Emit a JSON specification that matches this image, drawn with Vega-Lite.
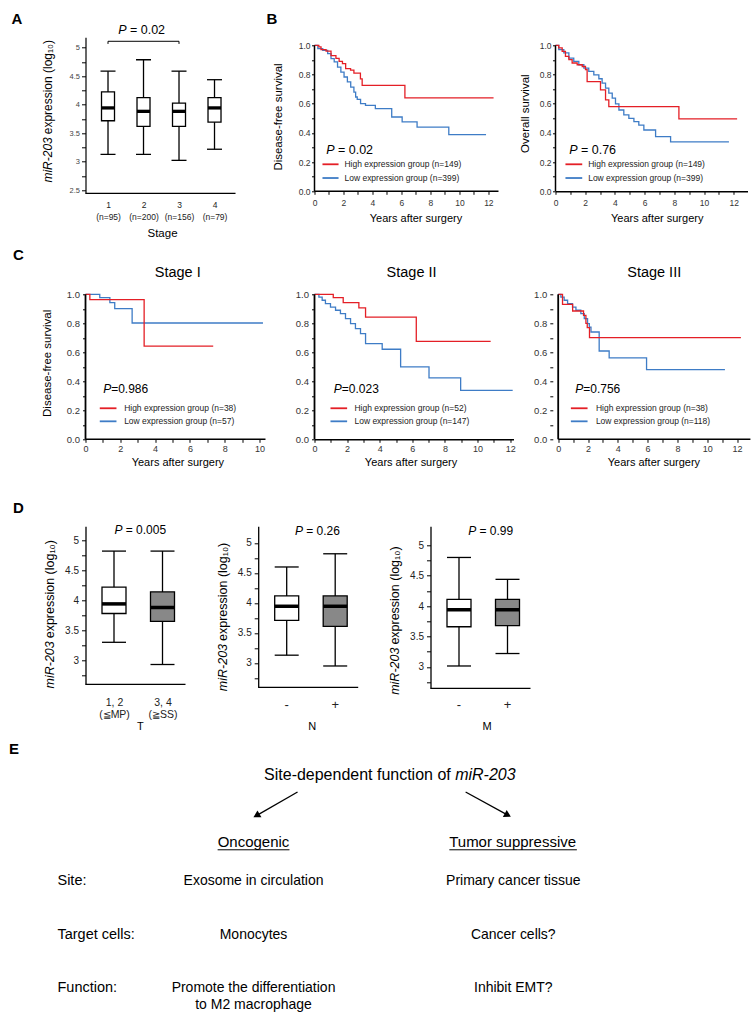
{
"$schema": "https://vega.github.io/schema/vega-lite/v6.json",
"background": "#ffffff",
"padding": {"left": 8.5, "top": 11.3, "right": 0, "bottom": 0},
"columns": 3,
"align": "each",
"bounds": "flush",
"spacing": {"row": 87, "column": 39},
"datasets": {
"boxA": [
{"stage":1,"lo":3.13,"q1":3.72,"med":3.945,"q3":4.225,"hi":4.59},
{"stage":2,"lo":3.13,"q1":3.62,"med":3.885,"q3":4.125,"hi":4.79},
{"stage":3,"lo":3.025,"q1":3.62,"med":3.885,"q3":4.03,"hi":4.59},
{"stage":4,"lo":3.22,"q1":3.695,"med":3.945,"q3":4.125,"hi":4.44}],
"dfs": [
{"g":"Low","t":0,"s":1},{"g":"Low","t":0.23,"s":0.977},{"g":"Low","t":0.57,"s":0.966},{"g":"Low","t":0.91,"s":0.943},{"g":"Low","t":1.14,"s":0.909},{"g":"Low","t":1.36,"s":0.886},{"g":"Low","t":1.59,"s":0.851},{"g":"Low","t":1.82,"s":0.817},{"g":"Low","t":2.04,"s":0.783},{"g":"Low","t":2.27,"s":0.749},{"g":"Low","t":2.5,"s":0.714},{"g":"Low","t":2.72,"s":0.68},{"g":"Low","t":2.84,"s":0.646},{"g":"Low","t":2.95,"s":0.63},{"g":"Low","t":3.18,"s":0.6},{"g":"Low","t":3.52,"s":0.589},{"g":"Low","t":4.2,"s":0.566},{"g":"Low","t":5.33,"s":0.509},{"g":"Low","t":6.05,"s":0.475},{"g":"Low","t":7.08,"s":0.44},{"g":"Low","t":9.27,"s":0.388},{"g":"Low","t":11.84,"s":0.388},
{"g":"High","t":0,"s":1},{"g":"High","t":0.3,"s":0.99},{"g":"High","t":0.45,"s":0.97},{"g":"High","t":0.8,"s":0.96},{"g":"High","t":1.14,"s":0.93},{"g":"High","t":1.48,"s":0.91},{"g":"High","t":1.7,"s":0.89},{"g":"High","t":1.93,"s":0.875},{"g":"High","t":2.15,"s":0.84},{"g":"High","t":2.49,"s":0.83},{"g":"High","t":2.72,"s":0.81},{"g":"High","t":3.17,"s":0.77},{"g":"High","t":3.29,"s":0.726},{"g":"High","t":6.24,"s":0.64},{"g":"High","t":12.36,"s":0.64}],
"os": [
{"g":"Low","t":0,"s":1},{"g":"Low","t":0.22,"s":0.97},{"g":"Low","t":0.56,"s":0.948},{"g":"Low","t":0.9,"s":0.913},{"g":"Low","t":1.23,"s":0.89},{"g":"Low","t":1.57,"s":0.867},{"g":"Low","t":1.91,"s":0.844},{"g":"Low","t":2.24,"s":0.821},{"g":"Low","t":2.58,"s":0.798},{"g":"Low","t":2.92,"s":0.771},{"g":"Low","t":3.14,"s":0.741},{"g":"Low","t":3.37,"s":0.707},{"g":"Low","t":3.59,"s":0.672},{"g":"Low","t":3.82,"s":0.638},{"g":"Low","t":4.04,"s":0.599},{"g":"Low","t":4.27,"s":0.557},{"g":"Low","t":4.6,"s":0.523},{"g":"Low","t":4.94,"s":0.5},{"g":"Low","t":5.28,"s":0.477},{"g":"Low","t":5.61,"s":0.454},{"g":"Low","t":5.95,"s":0.42},{"g":"Low","t":6.74,"s":0.374},{"g":"Low","t":7.75,"s":0.339},{"g":"Low","t":11.68,"s":0.339},
{"g":"High","t":0,"s":1},{"g":"High","t":0.22,"s":0.982},{"g":"High","t":0.45,"s":0.959},{"g":"High","t":0.67,"s":0.924},{"g":"High","t":0.9,"s":0.902},{"g":"High","t":1.12,"s":0.879},{"g":"High","t":1.46,"s":0.867},{"g":"High","t":1.8,"s":0.855},{"g":"High","t":2.02,"s":0.833},{"g":"High","t":2.13,"s":0.752},{"g":"High","t":3.03,"s":0.695},{"g":"High","t":3.37,"s":0.626},{"g":"High","t":3.59,"s":0.58},{"g":"High","t":8.31,"s":0.496},{"g":"High","t":12.23,"s":0.496}],
"st1": [
{"g":"Low","t":0,"s":1},{"g":"Low","t":0.82,"s":0.977},{"g":"Low","t":1.4,"s":0.943},{"g":"Low","t":1.68,"s":0.901},{"g":"Low","t":2.68,"s":0.802},{"g":"Low","t":10.2,"s":0.802},
{"g":"High","t":0,"s":1},{"g":"High","t":0.25,"s":0.963},{"g":"High","t":3.37,"s":0.643},{"g":"High","t":7.34,"s":0.643}],
"st2": [
{"g":"Low","t":0,"s":1},{"g":"Low","t":0.27,"s":0.981},{"g":"Low","t":0.47,"s":0.959},{"g":"Low","t":0.67,"s":0.936},{"g":"Low","t":0.98,"s":0.912},{"g":"Low","t":1.29,"s":0.89},{"g":"Low","t":1.59,"s":0.867},{"g":"Low","t":1.9,"s":0.832},{"g":"Low","t":2.21,"s":0.798},{"g":"Low","t":2.51,"s":0.763},{"g":"Low","t":2.82,"s":0.729},{"g":"Low","t":3.13,"s":0.66},{"g":"Low","t":4.15,"s":0.621},{"g":"Low","t":5.28,"s":0.499},{"g":"Low","t":7.02,"s":0.423},{"g":"Low","t":8.96,"s":0.338},{"g":"Low","t":12.15,"s":0.338},
{"g":"High","t":0,"s":1},{"g":"High","t":1.15,"s":0.977},{"g":"High","t":1.76,"s":0.943},{"g":"High","t":2.72,"s":0.906},{"g":"High","t":3.13,"s":0.843},{"g":"High","t":6.24,"s":0.676},{"g":"High","t":10.8,"s":0.676}],
"st3": [
{"g":"Low","t":0,"s":1},{"g":"Low","t":0.18,"s":0.981},{"g":"Low","t":0.4,"s":0.959},{"g":"Low","t":0.63,"s":0.936},{"g":"Low","t":0.96,"s":0.912},{"g":"Low","t":1.19,"s":0.89},{"g":"Low","t":1.52,"s":0.867},{"g":"Low","t":1.75,"s":0.832},{"g":"Low","t":1.97,"s":0.798},{"g":"Low","t":2.09,"s":0.774},{"g":"Low","t":2.2,"s":0.74},{"g":"Low","t":2.75,"s":0.609},{"g":"Low","t":3.42,"s":0.561},{"g":"Low","t":5.93,"s":0.481},{"g":"Low","t":11.19,"s":0.481},
{"g":"High","t":0,"s":1},{"g":"High","t":0.29,"s":0.931},{"g":"High","t":0.97,"s":0.885},{"g":"High","t":1.7,"s":0.855},{"g":"High","t":1.86,"s":0.8},{"g":"High","t":1.95,"s":0.77},{"g":"High","t":2.1,"s":0.701},{"g":"High","t":12.26,"s":0.701}],
"boxT": [
{"c":1,"lo":3.3,"q1":3.78,"med":3.94,"q3":4.22,"hi":4.82},
{"c":2,"lo":2.93,"q1":3.65,"med":3.88,"q3":4.14,"hi":4.82}],
"boxN": [
{"c":1,"lo":3.13,"q1":3.71,"med":3.945,"q3":4.117,"hi":4.6},
{"c":2,"lo":2.95,"q1":3.61,"med":3.945,"q3":4.117,"hi":4.82}],
"boxM": [
{"c":1,"lo":3.015,"q1":3.66,"med":3.94,"q3":4.11,"hi":4.8},
{"c":2,"lo":3.22,"q1":3.68,"med":3.94,"q3":4.11,"hi":4.44}],
"siteTable": [
{"order":1,"aspect":"Site:","oncogenic":"Exosome in circulation","suppressive":"Primary cancer tissue"},
{"order":2,"aspect":"Target cells:","oncogenic":"Monocytes","suppressive":"Cancer cells?"},
{"order":3,"aspect":"Function:","oncogenic":["Promote the differentiation","to M2 macrophage"],"suppressive":"Inhibit EMT?"}]
},
"concat": [
{
"width": 190, "height": 156,
"data": {"values": [{}]},
"layer": [
{"data":{"name":"boxA"},"mark":{"type":"rule","color":"#000","strokeWidth":1.3},
"encoding":{
"x":{"field":"stage","type":"quantitative","scale":{"domain":[0.366,5.718],"nice":false,"zero":false,"padding":0},
"axis":{"values":[1,2,3,4],"tickCount":50,"labelExpr":"[format(datum.value,'d'), datum.value == 1 ? '(n=95)' : datum.value == 2 ? '(n=200)' : datum.value == 3 ? '(n=156)' : '(n=79)']","labelOverlap":false,"domain":false,"ticks":false,"tickSize":0,"labelPadding":7.3,"labelFontSize":8.5,"labelLineHeight":12,"labelColor":"#222","title":null}},
"y":{"field":"lo","type":"quantitative","scale":{"domain":[2.447,5.184],"nice":false,"zero":false,"padding":0},
"axis":{"values":[2.5,2.75,3,3.25,3.5,3.75,4,4.25,4.5,4.75,5],"tickCount":50,"labelExpr":"datum.value*2 % 1 == 0 ? format(datum.value, '~g') : ''","labelOverlap":false,"tickSize":4,"labelPadding":2,"labelFontSize":7.5,"labelColor":"#444","domainWidth":1.2,"title":null}},
"y2":{"field":"hi"}}},
{"data":{"name":"boxA"},"mark":{"type":"bar","orient":"vertical","size":13,"fill":"#ffffff","stroke":"#000","strokeWidth":1.3},
"encoding":{"x":{"field":"stage","type":"quantitative"},"y":{"field":"q1","type":"quantitative"},"y2":{"field":"q3"}}},
{"data":{"name":"boxA"},"mark":{"type":"tick","orient":"horizontal","size":13,"thickness":3.3,"color":"#000","opacity":1},
"encoding":{"x":{"field":"stage","type":"quantitative"},"y":{"field":"med","type":"quantitative"}}},
{"data":{"name":"boxA"},"mark":{"type":"tick","orient":"horizontal","size":15,"thickness":1.3,"color":"#000","opacity":1},
"encoding":{"x":{"field":"stage","type":"quantitative"},"y":{"field":"lo","type":"quantitative"}}},
{"data":{"name":"boxA"},"mark":{"type":"tick","orient":"horizontal","size":15,"thickness":1.3,"color":"#000","opacity":1},
"encoding":{"x":{"field":"stage","type":"quantitative"},"y":{"field":"hi","type":"quantitative"}}},
{"mark":{"type":"rule","color":"#000","strokeWidth":1.2},"encoding":{"x":{"datum":0.366,"type":"quantitative"},"x2":{"datum":4.592},"y":{"datum":2.447,"type":"quantitative"}}},
{"mark":{"type":"rule","color":"#000","strokeWidth":1},"encoding":{"x":{"datum":1,"type":"quantitative"},"x2":{"datum":3},"y":{"datum":5.114,"type":"quantitative"}}},
{"mark":{"type":"rule","color":"#000","strokeWidth":1},"encoding":{"x":{"datum":1,"type":"quantitative"},"y":{"datum":5.114,"type":"quantitative"},"y2":{"datum":5.068}}},
{"mark":{"type":"rule","color":"#000","strokeWidth":1},"encoding":{"x":{"datum":3,"type":"quantitative"},"y":{"datum":5.114,"type":"quantitative"},"y2":{"datum":5.068}}},
{"mark":{"type":"text","text":"P","fontStyle":"italic","fontSize":12.5,"align":"right","baseline":"alphabetic"},"encoding":{"x":{"datum":1.521,"type":"quantitative"},"y":{"datum":5.249,"type":"quantitative"}}},
{"mark":{"type":"text","text":"= 0.02","fontSize":12.5,"align":"left","baseline":"alphabetic","dx":3.5},"encoding":{"x":{"datum":1.521,"type":"quantitative"},"y":{"datum":5.249,"type":"quantitative"}}},
{"mark":{"type":"text","text":"miR-203","fontStyle":"italic","fontSize":12,"angle":270,"align":"right","baseline":"middle"},"encoding":{"x":{"datum":-0.704,"type":"quantitative"},"y":{"datum":3.43,"type":"quantitative"}}},
{"mark":{"type":"text","text":"expression (log\u2081\u2080)","fontSize":12,"angle":270,"align":"left","baseline":"middle","dx":3},"encoding":{"x":{"datum":-0.704,"type":"quantitative"},"y":{"datum":3.43,"type":"quantitative"}}},
{"mark":{"type":"text","text":"Stage","fontSize":11.5,"align":"center","baseline":"middle"},"encoding":{"x":{"datum":2.535,"type":"quantitative"},"y":{"datum":1.74,"type":"quantitative"}}},
{"mark":{"type":"text","text":"A","fontSize":15,"fontWeight":"bold","align":"left","baseline":"alphabetic"},"encoding":{"x":{"datum":-1.718,"type":"quantitative"},"y":{"datum":5.425,"type":"quantitative"}}}
]
},
{
"width": 202, "height": 154,
"data": {"values": [{}]},
"layer": [
{"data":{"name":"dfs"},"mark":{"type":"line","interpolate":"step-after","strokeWidth":1.3},
"encoding":{
"x":{"field":"t","type":"quantitative","scale":{"domain":[0,13.943],"nice":false,"zero":false},"axis":{"values":[0,1,2,3,4,5,6,7,8,9,10,11,12],"tickCount":50,"labelExpr":"datum.value % 2 == 0 ? format(datum.value, 'd') : ''","labelOverlap":false,"domain":false,"tickSize":3,"labelPadding":4.5,"labelFontSize":8.5,"title":null}},
"y":{"field":"s","type":"quantitative","scale":{"domain":[0,1.055],"nice":false,"zero":false},"axis":{"values":[0,0.1,0.2,0.3,0.4,0.5,0.6,0.7,0.8,0.9,1],"tickCount":50,"labelExpr":"abs(datum.value*5 - round(datum.value*5)) < 0.01 ? format(datum.value, '.1f') : ''","labelOverlap":false,"domain":false,"tickSize":3,"labelPadding":1.5,"labelFontSize":8.5,"title":null}},
"color":{"field":"g","type":"nominal","scale":{"domain":["High","Low"],"range":["#e41f26","#3e7cc6"]},"legend":null}}},
{"mark":{"type":"rule","color":"#000","strokeWidth":1.5},"encoding":{"x":{"datum":0,"type":"quantitative"},"x2":{"datum":12.7},"y":{"datum":0,"type":"quantitative"}}},
{"mark":{"type":"rule","color":"#000","strokeWidth":1.5},"encoding":{"x":{"datum":0,"type":"quantitative"},"y":{"datum":0,"type":"quantitative"},"y2":{"datum":1}}},
{"mark":{"type":"rule","color":"#e41f26","strokeWidth":1.8},"encoding":{"x":{"datum":0.55,"type":"quantitative"},"x2":{"datum":1.66},"y":{"datum":0.185,"type":"quantitative"}}},
{"mark":{"type":"rule","color":"#3e7cc6","strokeWidth":1.8},"encoding":{"x":{"datum":0.55,"type":"quantitative"},"x2":{"datum":1.66},"y":{"datum":0.091,"type":"quantitative"}}},
{"mark":{"type":"text","text":"High expression group (n=149)","fontSize":8.5,"align":"left","baseline":"middle","color":"#222"},"encoding":{"x":{"datum":2.07,"type":"quantitative"},"y":{"datum":0.185,"type":"quantitative"}}},
{"mark":{"type":"text","text":"Low expression group (n=399)","fontSize":8.5,"align":"left","baseline":"middle","color":"#222"},"encoding":{"x":{"datum":2.07,"type":"quantitative"},"y":{"datum":0.091,"type":"quantitative"}}},
{"mark":{"type":"text","text":"P","fontStyle":"italic","fontSize":12.5,"align":"right","baseline":"alphabetic"},"encoding":{"x":{"datum":1.38,"type":"quantitative"},"y":{"datum":0.258,"type":"quantitative"}}},
{"mark":{"type":"text","text":"= 0.02","fontSize":12.5,"align":"left","baseline":"alphabetic","dx":3.5},"encoding":{"x":{"datum":1.38,"type":"quantitative"},"y":{"datum":0.258,"type":"quantitative"}}},
{"mark":{"type":"text","text":"Years after surgery","fontSize":11,"align":"center","baseline":"middle"},"encoding":{"x":{"datum":7.006,"type":"quantitative"},"y":{"datum":-0.1918,"type":"quantitative"}}},
{"mark":{"type":"text","text":"Disease-free survival","fontSize":11.5,"angle":270,"align":"center","baseline":"middle"},"encoding":{"x":{"datum":-2.464,"type":"quantitative"},"y":{"datum":0.509,"type":"quantitative"}}},
{"mark":{"type":"text","text":"B","fontSize":15,"fontWeight":"bold","align":"left","baseline":"alphabetic"},"encoding":{"x":{"datum":-3.31,"type":"quantitative"},"y":{"datum":1.149,"type":"quantitative"}}}
]
},
{
"width": 192, "height": 154,
"data": {"values": [{}]},
"layer": [
{"data":{"name":"os"},"mark":{"type":"line","interpolate":"step-after","strokeWidth":1.3},
"encoding":{
"x":{"field":"t","type":"quantitative","scale":{"domain":[0,12.929],"nice":false,"zero":false},"axis":{"values":[0,1,2,3,4,5,6,7,8,9,10,11,12],"tickCount":50,"labelExpr":"datum.value % 2 == 0 ? format(datum.value, 'd') : ''","labelOverlap":false,"domain":true,"tickSize":3,"labelPadding":4.5,"labelFontSize":8.5,"title":null}},
"y":{"field":"s","type":"quantitative","scale":{"domain":[0,1.055],"nice":false,"zero":false},"axis":{"values":[0,0.1,0.2,0.3,0.4,0.5,0.6,0.7,0.8,0.9,1],"tickCount":50,"labelExpr":"abs(datum.value*5 - round(datum.value*5)) < 0.01 ? format(datum.value, '.1f') : ''","labelOverlap":false,"domain":false,"tickSize":3,"labelPadding":1.5,"labelFontSize":8.5,"title":null}},
"color":{"field":"g","type":"nominal","scale":{"domain":["High","Low"],"range":["#e41f26","#3e7cc6"]},"legend":null}}},
{"mark":{"type":"rule","color":"#000","strokeWidth":1.5},"encoding":{"x":{"datum":0,"type":"quantitative"},"y":{"datum":0,"type":"quantitative"},"y2":{"datum":1}}},
{"mark":{"type":"rule","color":"#e41f26","strokeWidth":1.8},"encoding":{"x":{"datum":0.67,"type":"quantitative"},"x2":{"datum":1.8},"y":{"datum":0.185,"type":"quantitative"}}},
{"mark":{"type":"rule","color":"#3e7cc6","strokeWidth":1.8},"encoding":{"x":{"datum":0.67,"type":"quantitative"},"x2":{"datum":1.8},"y":{"datum":0.091,"type":"quantitative"}}},
{"mark":{"type":"text","text":"High expression group (n=149)","fontSize":8.5,"align":"left","baseline":"middle","color":"#222"},"encoding":{"x":{"datum":2.2,"type":"quantitative"},"y":{"datum":0.185,"type":"quantitative"}}},
{"mark":{"type":"text","text":"Low expression group (n=399)","fontSize":8.5,"align":"left","baseline":"middle","color":"#222"},"encoding":{"x":{"datum":2.2,"type":"quantitative"},"y":{"datum":0.091,"type":"quantitative"}}},
{"mark":{"type":"text","text":"P","fontStyle":"italic","fontSize":12.5,"align":"right","baseline":"alphabetic"},"encoding":{"x":{"datum":1.48,"type":"quantitative"},"y":{"datum":0.258,"type":"quantitative"}}},
{"mark":{"type":"text","text":"= 0.76","fontSize":12.5,"align":"left","baseline":"alphabetic","dx":3.5},"encoding":{"x":{"datum":1.48,"type":"quantitative"},"y":{"datum":0.258,"type":"quantitative"}}},
{"mark":{"type":"text","text":"Years after surgery","fontSize":11,"align":"center","baseline":"middle"},"encoding":{"x":{"datum":6.848,"type":"quantitative"},"y":{"datum":-0.1918,"type":"quantitative"}}},
{"mark":{"type":"text","text":"Overall survival","fontSize":11.5,"angle":270,"align":"center","baseline":"middle"},"encoding":{"x":{"datum":-2.02,"type":"quantitative"},"y":{"datum":0.532,"type":"quantitative"}}}
]
},
{
"width": 190, "height": 159,
"data": {"values": [{}]},
"layer": [
{"data":{"name":"st1"},"mark":{"type":"line","interpolate":"step-after","strokeWidth":1.3},
"encoding":{
"x":{"field":"t","type":"quantitative","scale":{"domain":[0,10.92],"nice":false,"zero":false},"axis":{"values":[0,1,2,3,4,5,6,7,8,9,10],"tickCount":50,"labelExpr":"datum.value % 2 == 0 ? format(datum.value, 'd') : ''","labelOverlap":false,"domain":false,"tickSize":3,"labelPadding":2,"labelFontSize":9,"title":null}},
"y":{"field":"s","type":"quantitative","scale":{"domain":[0,1.0966],"nice":false,"zero":false},"axis":{"values":[0,0.1,0.2,0.3,0.4,0.5,0.6,0.7,0.8,0.9,1],"tickCount":50,"labelExpr":"abs(datum.value*5 - round(datum.value*5)) < 0.01 ? format(datum.value, '.1f') : ''","labelOverlap":false,"domain":false,"tickSize":3,"labelPadding":3,"labelFontSize":9.5,"title":null}},
"color":{"field":"g","type":"nominal","scale":{"domain":["High","Low"],"range":["#e41f26","#3e7cc6"]},"legend":null}}},
{"mark":{"type":"rule","color":"#000","strokeWidth":1.5},"encoding":{"x":{"datum":0,"type":"quantitative"},"x2":{"datum":10.345},"y":{"datum":0,"type":"quantitative"}}},
{"mark":{"type":"rule","color":"#000","strokeWidth":1.8},"encoding":{"x":{"datum":0,"type":"quantitative"},"y":{"datum":0,"type":"quantitative"},"y2":{"datum":1}}},
{"mark":{"type":"text","text":"Stage I","fontSize":14.5,"align":"center","baseline":"middle"},"encoding":{"x":{"datum":5.3,"type":"quantitative"},"y":{"datum":1.1448,"type":"quantitative"}}},
{"mark":{"type":"rule","color":"#e41f26","strokeWidth":1.8},"encoding":{"x":{"datum":0.82,"type":"quantitative"},"x2":{"datum":1.78},"y":{"datum":0.214,"type":"quantitative"}}},
{"mark":{"type":"rule","color":"#3e7cc6","strokeWidth":1.8},"encoding":{"x":{"datum":0.82,"type":"quantitative"},"x2":{"datum":1.78},"y":{"datum":0.124,"type":"quantitative"}}},
{"mark":{"type":"text","text":"High expression group (n=38)","fontSize":8.5,"align":"left","baseline":"middle","color":"#222"},"encoding":{"x":{"datum":2.22,"type":"quantitative"},"y":{"datum":0.214,"type":"quantitative"}}},
{"mark":{"type":"text","text":"Low expression group (n=57)","fontSize":8.5,"align":"left","baseline":"middle","color":"#222"},"encoding":{"x":{"datum":2.22,"type":"quantitative"},"y":{"datum":0.124,"type":"quantitative"}}},
{"mark":{"type":"text","text":"P","fontStyle":"italic","fontSize":12,"align":"right","baseline":"alphabetic"},"encoding":{"x":{"datum":1.477,"type":"quantitative"},"y":{"datum":0.322,"type":"quantitative"}}},
{"mark":{"type":"text","text":"=0.986","fontSize":12,"align":"left","baseline":"alphabetic"},"encoding":{"x":{"datum":1.477,"type":"quantitative"},"y":{"datum":0.322,"type":"quantitative"}}},
{"mark":{"type":"text","text":"Years after surgery","fontSize":11,"align":"center","baseline":"middle"},"encoding":{"x":{"datum":5.31,"type":"quantitative"},"y":{"datum":-0.1634,"type":"quantitative"}}},
{"mark":{"type":"text","text":"Disease-free survival","fontSize":11.5,"angle":270,"align":"center","baseline":"middle"},"encoding":{"x":{"datum":-2.184,"type":"quantitative"},"y":{"datum":0.524,"type":"quantitative"}}},
{"mark":{"type":"text","text":"C","fontSize":15,"fontWeight":"bold","align":"left","baseline":"alphabetic"},"encoding":{"x":{"datum":-4.167,"type":"quantitative"},"y":{"datum":1.239,"type":"quantitative"}}}
]
},
{
"width": 199, "height": 159,
"data": {"values": [{}]},
"layer": [
{"data":{"name":"st2"},"mark":{"type":"line","interpolate":"step-after","strokeWidth":1.3},
"encoding":{
"x":{"field":"t","type":"quantitative","scale":{"domain":[0,12.2],"nice":false,"zero":false},"axis":{"values":[0,1,2,3,4,5,6,7,8,9,10,11,12],"tickCount":50,"labelExpr":"datum.value % 2 == 0 ? format(datum.value, 'd') : ''","labelOverlap":false,"domain":true,"tickSize":3,"labelPadding":2,"labelFontSize":9,"title":null}},
"y":{"field":"s","type":"quantitative","scale":{"domain":[0,1.0966],"nice":false,"zero":false},"axis":{"values":[0,0.1,0.2,0.3,0.4,0.5,0.6,0.7,0.8,0.9,1],"tickCount":50,"labelExpr":"abs(datum.value*5 - round(datum.value*5)) < 0.01 ? format(datum.value, '.1f') : ''","labelOverlap":false,"domain":false,"tickSize":3,"labelPadding":3,"labelFontSize":9.5,"title":null}},
"color":{"field":"g","type":"nominal","scale":{"domain":["High","Low"],"range":["#e41f26","#3e7cc6"]},"legend":null}}},
{"mark":{"type":"rule","color":"#000","strokeWidth":1.8},"encoding":{"x":{"datum":0,"type":"quantitative"},"y":{"datum":0,"type":"quantitative"},"y2":{"datum":1}}},
{"mark":{"type":"text","text":"Stage II","fontSize":14.5,"align":"center","baseline":"middle"},"encoding":{"x":{"datum":5.951,"type":"quantitative"},"y":{"datum":1.1448,"type":"quantitative"}}},
{"mark":{"type":"rule","color":"#e41f26","strokeWidth":1.8},"encoding":{"x":{"datum":0.98,"type":"quantitative"},"x2":{"datum":2.0},"y":{"datum":0.214,"type":"quantitative"}}},
{"mark":{"type":"rule","color":"#3e7cc6","strokeWidth":1.8},"encoding":{"x":{"datum":0.98,"type":"quantitative"},"x2":{"datum":2.0},"y":{"datum":0.124,"type":"quantitative"}}},
{"mark":{"type":"text","text":"High expression group (n=52)","fontSize":8.5,"align":"left","baseline":"middle","color":"#222"},"encoding":{"x":{"datum":2.45,"type":"quantitative"},"y":{"datum":0.214,"type":"quantitative"}}},
{"mark":{"type":"text","text":"Low expression group (n=147)","fontSize":8.5,"align":"left","baseline":"middle","color":"#222"},"encoding":{"x":{"datum":2.45,"type":"quantitative"},"y":{"datum":0.124,"type":"quantitative"}}},
{"mark":{"type":"text","text":"P","fontStyle":"italic","fontSize":12,"align":"right","baseline":"alphabetic"},"encoding":{"x":{"datum":1.675,"type":"quantitative"},"y":{"datum":0.322,"type":"quantitative"}}},
{"mark":{"type":"text","text":"=0.023","fontSize":12,"align":"left","baseline":"alphabetic"},"encoding":{"x":{"datum":1.675,"type":"quantitative"},"y":{"datum":0.322,"type":"quantitative"}}},
{"mark":{"type":"text","text":"Years after surgery","fontSize":11,"align":"center","baseline":"middle"},"encoding":{"x":{"datum":5.92,"type":"quantitative"},"y":{"datum":-0.1634,"type":"quantitative"}}}
]
},
{
"width": 190, "height": 159,
"data": {"values": [{}]},
"layer": [
{"data":{"name":"st3"},"mark":{"type":"line","interpolate":"step-after","strokeWidth":1.3},
"encoding":{
"x":{"field":"t","type":"quantitative","scale":{"domain":[-0.1812,12.57],"nice":false,"zero":false},"axis":{"values":[0,1,2,3,4,5,6,7,8,9,10,11,12],"tickCount":50,"labelExpr":"datum.value % 2 == 0 ? format(datum.value, 'd') : ''","labelOverlap":false,"domain":false,"tickSize":3,"labelPadding":2,"labelFontSize":9,"title":null}},
"y":{"field":"s","type":"quantitative","scale":{"domain":[0,1.0966],"nice":false,"zero":false},"axis":{"values":[0,0.1,0.2,0.3,0.4,0.5,0.6,0.7,0.8,0.9,1],"tickCount":50,"labelExpr":"abs(datum.value*5 - round(datum.value*5)) < 0.01 ? format(datum.value, '.1f') : ''","labelOverlap":false,"domain":false,"offset":2.7,"tickSize":3,"labelPadding":3,"labelFontSize":9.5,"title":null}},
"color":{"field":"g","type":"nominal","scale":{"domain":["High","Low"],"range":["#e41f26","#3e7cc6"]},"legend":null}}},
{"mark":{"type":"rule","color":"#000","strokeWidth":1.5},"encoding":{"x":{"datum":0,"type":"quantitative"},"x2":{"datum":12.9},"y":{"datum":0,"type":"quantitative"}}},
{"mark":{"type":"rule","color":"#000","strokeWidth":1.8},"encoding":{"x":{"datum":0,"type":"quantitative"},"y":{"datum":0,"type":"quantitative"},"y2":{"datum":1}}},
{"mark":{"type":"text","text":"Stage III","fontSize":14.5,"align":"center","baseline":"middle"},"encoding":{"x":{"datum":6.443,"type":"quantitative"},"y":{"datum":1.1448,"type":"quantitative"}}},
{"mark":{"type":"rule","color":"#e41f26","strokeWidth":1.8},"encoding":{"x":{"datum":0.85,"type":"quantitative"},"x2":{"datum":1.97},"y":{"datum":0.214,"type":"quantitative"}}},
{"mark":{"type":"rule","color":"#3e7cc6","strokeWidth":1.8},"encoding":{"x":{"datum":0.85,"type":"quantitative"},"x2":{"datum":1.97},"y":{"datum":0.124,"type":"quantitative"}}},
{"mark":{"type":"text","text":"High expression group (n=38)","fontSize":8.5,"align":"left","baseline":"middle","color":"#222"},"encoding":{"x":{"datum":2.53,"type":"quantitative"},"y":{"datum":0.214,"type":"quantitative"}}},
{"mark":{"type":"text","text":"Low expression group (n=118)","fontSize":8.5,"align":"left","baseline":"middle","color":"#222"},"encoding":{"x":{"datum":2.53,"type":"quantitative"},"y":{"datum":0.124,"type":"quantitative"}}},
{"mark":{"type":"text","text":"P","fontStyle":"italic","fontSize":12,"align":"right","baseline":"alphabetic"},"encoding":{"x":{"datum":1.68,"type":"quantitative"},"y":{"datum":0.322,"type":"quantitative"}}},
{"mark":{"type":"text","text":"=0.756","fontSize":12,"align":"left","baseline":"alphabetic"},"encoding":{"x":{"datum":1.68,"type":"quantitative"},"y":{"datum":0.322,"type":"quantitative"}}},
{"mark":{"type":"text","text":"Years after surgery","fontSize":11,"align":"center","baseline":"middle"},"encoding":{"x":{"datum":6.423,"type":"quantitative"},"y":{"datum":-0.1634,"type":"quantitative"}}}
]
},
{
"width": 100, "height": 158,
"data": {"values": [{}]},
"layer": [
{"data":{"name":"boxT"},"mark":{"type":"rule","color":"#000","strokeWidth":1.3},
"encoding":{
"x":{"field":"c","type":"quantitative","scale":{"domain":[0.4124,2.4742],"nice":false,"zero":false,"padding":0},"axis":{"values":[1,2],"tickCount":50,"labelExpr":"datum.value == 1 ? ['1, 2', '(\u2266MP)'] : ['3, 4', '(\u2267SS)']","labelOverlap":false,"domain":false,"ticks":false,"tickSize":0,"labelPadding":12.9,"labelFontSize":10.5,"labelLineHeight":12.3,"labelColor":"#222","title":null}},
"y":{"field":"lo","type":"quantitative","scale":{"domain":[2.6,5.2333],"nice":false,"zero":false,"padding":0},"axis":{"values":[2.75,3,3.25,3.5,3.75,4,4.25,4.5,4.75,5],"tickCount":50,"labelExpr":"datum.value*2 % 1 == 0 ? format(datum.value, '~g') : ''","labelOverlap":false,"tickSize":4,"labelPadding":3,"labelFontSize":10,"labelColor":"#222","domainWidth":1.3,"title":null}},
"y2":{"field":"hi"}}},
{"data":{"name":"boxT"},"mark":{"type":"bar","orient":"vertical","size":24,"stroke":"#000","strokeWidth":1.3},
"encoding":{"x":{"field":"c","type":"quantitative"},"y":{"field":"q1","type":"quantitative"},"y2":{"field":"q3"},"fill":{"field":"c","type":"nominal","scale":{"domain":[1,2],"range":["#ffffff","#888888"]},"legend":null}}},
{"data":{"name":"boxT"},"mark":{"type":"tick","orient":"horizontal","size":24,"thickness":3.5,"color":"#000","opacity":1},
"encoding":{"x":{"field":"c","type":"quantitative"},"y":{"field":"med","type":"quantitative"}}},
{"data":{"name":"boxT"},"mark":{"type":"tick","orient":"horizontal","size":24,"thickness":1.3,"color":"#000","opacity":1},
"encoding":{"x":{"field":"c","type":"quantitative"},"y":{"field":"lo","type":"quantitative"}}},
{"data":{"name":"boxT"},"mark":{"type":"tick","orient":"horizontal","size":24,"thickness":1.3,"color":"#000","opacity":1},
"encoding":{"x":{"field":"c","type":"quantitative"},"y":{"field":"hi","type":"quantitative"}}},
{"mark":{"type":"rule","color":"#000","strokeWidth":1.3},"encoding":{"x":{"datum":0.4124,"type":"quantitative"},"x2":{"datum":2.4742},"y":{"datum":2.6,"type":"quantitative"}}},
{"mark":{"type":"text","text":"P","fontStyle":"italic","fontSize":12,"align":"right","baseline":"alphabetic"},"encoding":{"x":{"datum":1.175,"type":"quantitative"},"y":{"datum":5.112,"type":"quantitative"}}},
{"mark":{"type":"text","text":"= 0.005","fontSize":12,"align":"left","baseline":"alphabetic","dx":3.3},"encoding":{"x":{"datum":1.175,"type":"quantitative"},"y":{"datum":5.112,"type":"quantitative"}}},
{"mark":{"type":"text","text":"miR-203","fontStyle":"italic","fontSize":12.5,"angle":270,"align":"right","baseline":"middle"},"encoding":{"x":{"datum":-0.32,"type":"quantitative"},"y":{"datum":3.317,"type":"quantitative"}}},
{"mark":{"type":"text","text":"expression (log\u2081\u2080)","fontSize":12.5,"angle":270,"align":"left","baseline":"middle","dx":3},"encoding":{"x":{"datum":-0.32,"type":"quantitative"},"y":{"datum":3.317,"type":"quantitative"}}},
{"mark":{"type":"text","text":"T","fontSize":11,"align":"center","baseline":"middle"},"encoding":{"x":{"datum":1.546,"type":"quantitative"},"y":{"datum":1.888,"type":"quantitative"}}},
{"mark":{"type":"text","text":"D","fontSize":15,"fontWeight":"bold","align":"left","baseline":"alphabetic"},"encoding":{"x":{"datum":-1.082,"type":"quantitative"},"y":{"datum":5.455,"type":"quantitative"}}}
]
},
{
"width": 100, "height": 161,
"data": {"values": [{}]},
"layer": [
{"data":{"name":"boxN"},"mark":{"type":"rule","color":"#000","strokeWidth":1.3},
"encoding":{
"x":{"field":"c","type":"quantitative","scale":{"domain":[1.5732,3.635],"nice":false,"zero":false,"padding":0},"axis":null},
"y":{"field":"lo","type":"quantitative","scale":{"domain":[2.5947,5.278],"nice":false,"zero":false,"padding":0},"axis":{"values":[2.75,3,3.25,3.5,3.75,4,4.25,4.5,4.75,5],"tickCount":50,"labelExpr":"datum.value*2 % 1 == 0 ? format(datum.value, '~g') : ''","labelOverlap":false,"offset":56.3,"tickSize":4,"labelPadding":3,"labelFontSize":10,"labelColor":"#222","domainWidth":1.3,"title":null}},
"y2":{"field":"hi"}}},
{"data":{"name":"boxN"},"mark":{"type":"bar","orient":"vertical","size":24,"stroke":"#000","strokeWidth":1.3},
"encoding":{"x":{"field":"c","type":"quantitative"},"y":{"field":"q1","type":"quantitative"},"y2":{"field":"q3"},"fill":{"field":"c","type":"nominal","scale":{"domain":[1,2],"range":["#ffffff","#888888"]},"legend":null}}},
{"data":{"name":"boxN"},"mark":{"type":"tick","orient":"horizontal","size":24,"thickness":3.5,"color":"#000","opacity":1},
"encoding":{"x":{"field":"c","type":"quantitative"},"y":{"field":"med","type":"quantitative"}}},
{"data":{"name":"boxN"},"mark":{"type":"tick","orient":"horizontal","size":24,"thickness":1.3,"color":"#000","opacity":1},
"encoding":{"x":{"field":"c","type":"quantitative"},"y":{"field":"lo","type":"quantitative"}}},
{"data":{"name":"boxN"},"mark":{"type":"tick","orient":"horizontal","size":24,"thickness":1.3,"color":"#000","opacity":1},
"encoding":{"x":{"field":"c","type":"quantitative"},"y":{"field":"hi","type":"quantitative"}}},
{"mark":{"type":"rule","color":"#000","strokeWidth":1.3},"encoding":{"x":{"datum":0.4124,"type":"quantitative"},"x2":{"datum":2.4742},"y":{"datum":2.5947,"type":"quantitative"}}},
{"mark":{"type":"text","text":"-","fontSize":13,"align":"center","baseline":"middle","color":"#222"},"encoding":{"x":{"datum":1,"type":"quantitative"},"y":{"datum":2.295,"type":"quantitative"}}},
{"mark":{"type":"text","text":"+","fontSize":13,"align":"center","baseline":"middle","color":"#222"},"encoding":{"x":{"datum":2,"type":"quantitative"},"y":{"datum":2.295,"type":"quantitative"}}},
{"mark":{"type":"text","text":"P","fontStyle":"italic","fontSize":12,"align":"right","baseline":"alphabetic"},"encoding":{"x":{"datum":1.336,"type":"quantitative"},"y":{"datum":5.14,"type":"quantitative"}}},
{"mark":{"type":"text","text":"= 0.26","fontSize":12,"align":"left","baseline":"alphabetic","dx":3.3},"encoding":{"x":{"datum":1.336,"type":"quantitative"},"y":{"datum":5.14,"type":"quantitative"}}},
{"mark":{"type":"text","text":"miR-203","fontStyle":"italic","fontSize":12.5,"angle":270,"align":"right","baseline":"middle"},"encoding":{"x":{"datum":-0.32,"type":"quantitative"},"y":{"datum":3.317,"type":"quantitative"}}},
{"mark":{"type":"text","text":"expression (log\u2081\u2080)","fontSize":12.5,"angle":270,"align":"left","baseline":"middle","dx":3},"encoding":{"x":{"datum":-0.32,"type":"quantitative"},"y":{"datum":3.317,"type":"quantitative"}}},
{"mark":{"type":"text","text":"N","fontSize":11,"align":"center","baseline":"middle"},"encoding":{"x":{"datum":1.526,"type":"quantitative"},"y":{"datum":1.933,"type":"quantitative"}}}
]
},
{
"width": 100, "height": 162,
"data": {"values": [{}]},
"layer": [
{"data":{"name":"boxM"},"mark":{"type":"rule","color":"#000","strokeWidth":1.3},
"encoding":{
"x":{"field":"c","type":"quantitative","scale":{"domain":[2.9897,5.0516],"nice":false,"zero":false,"padding":0},"axis":null},
"y":{"field":"lo","type":"quantitative","scale":{"domain":[2.648,5.3125],"nice":false,"zero":false,"padding":0},"axis":{"values":[2.75,3,3.25,3.5,3.75,4,4.25,4.5,4.75,5],"tickCount":50,"labelExpr":"datum.value*2 % 1 == 0 ? format(datum.value, '~g') : ''","labelOverlap":false,"offset":125,"tickSize":4,"labelPadding":3,"labelFontSize":10,"labelColor":"#222","domainWidth":1.3,"title":null}},
"y2":{"field":"hi"}}},
{"data":{"name":"boxM"},"mark":{"type":"bar","orient":"vertical","size":24,"stroke":"#000","strokeWidth":1.3},
"encoding":{"x":{"field":"c","type":"quantitative"},"y":{"field":"q1","type":"quantitative"},"y2":{"field":"q3"},"fill":{"field":"c","type":"nominal","scale":{"domain":[1,2],"range":["#ffffff","#888888"]},"legend":null}}},
{"data":{"name":"boxM"},"mark":{"type":"tick","orient":"horizontal","size":24,"thickness":3.5,"color":"#000","opacity":1},
"encoding":{"x":{"field":"c","type":"quantitative"},"y":{"field":"med","type":"quantitative"}}},
{"data":{"name":"boxM"},"mark":{"type":"tick","orient":"horizontal","size":24,"thickness":1.3,"color":"#000","opacity":1},
"encoding":{"x":{"field":"c","type":"quantitative"},"y":{"field":"lo","type":"quantitative"}}},
{"data":{"name":"boxM"},"mark":{"type":"tick","orient":"horizontal","size":24,"thickness":1.3,"color":"#000","opacity":1},
"encoding":{"x":{"field":"c","type":"quantitative"},"y":{"field":"hi","type":"quantitative"}}},
{"mark":{"type":"rule","color":"#000","strokeWidth":1.3},"encoding":{"x":{"datum":0.4124,"type":"quantitative"},"x2":{"datum":2.4742},"y":{"datum":2.648,"type":"quantitative"}}},
{"mark":{"type":"text","text":"-","fontSize":13,"align":"center","baseline":"middle","color":"#222"},"encoding":{"x":{"datum":1,"type":"quantitative"},"y":{"datum":2.368,"type":"quantitative"}}},
{"mark":{"type":"text","text":"+","fontSize":13,"align":"center","baseline":"middle","color":"#222"},"encoding":{"x":{"datum":2,"type":"quantitative"},"y":{"datum":2.368,"type":"quantitative"}}},
{"mark":{"type":"text","text":"P","fontStyle":"italic","fontSize":12,"align":"right","baseline":"alphabetic"},"encoding":{"x":{"datum":1.355,"type":"quantitative"},"y":{"datum":5.176,"type":"quantitative"}}},
{"mark":{"type":"text","text":"= 0.99","fontSize":12,"align":"left","baseline":"alphabetic","dx":3.3},"encoding":{"x":{"datum":1.355,"type":"quantitative"},"y":{"datum":5.176,"type":"quantitative"}}},
{"mark":{"type":"text","text":"miR-203","fontStyle":"italic","fontSize":12.5,"angle":270,"align":"right","baseline":"middle"},"encoding":{"x":{"datum":-0.32,"type":"quantitative"},"y":{"datum":3.317,"type":"quantitative"}}},
{"mark":{"type":"text","text":"expression (log\u2081\u2080)","fontSize":12.5,"angle":270,"align":"left","baseline":"middle","dx":3},"encoding":{"x":{"datum":-0.32,"type":"quantitative"},"y":{"datum":3.317,"type":"quantitative"}}},
{"mark":{"type":"text","text":"M","fontSize":11,"align":"center","baseline":"middle"},"encoding":{"x":{"datum":1.581,"type":"quantitative"},"y":{"datum":2.0115,"type":"quantitative"}}}
]
},
{
"width": 1, "height": 240,
"data": {"name": "siteTable"},
"layer": [
{"mark":{"type":"text","align":"left","baseline":"alphabetic","fontSize":14.5},
"encoding":{"x":{"datum":0,"type":"quantitative","scale":{"domain":[0.4308,0.44618],"nice":false,"zero":false},"axis":null},
"y":{"field":"order","type":"quantitative","scale":{"domain":[-1.0598,3.4262],"reverse":true,"nice":false,"zero":false},"axis":null},
"text":{"field":"aspect"}}},
{"mark":{"type":"text","align":"center","baseline":"alphabetic","fontSize":14,"lineHeight":16.7},
"encoding":{"x":{"datum":3.015,"type":"quantitative","axis":null},"y":{"field":"order","type":"quantitative","axis":null},"text":{"field":"oncogenic"}}},
{"mark":{"type":"text","align":"center","baseline":"alphabetic","fontSize":14},
"encoding":{"x":{"datum":7.01,"type":"quantitative","axis":null},"y":{"field":"order","type":"quantitative","axis":null},"text":{"field":"suppressive"}}},
{"data":{"values":[{}]},"mark":{"type":"text","text":"E","fontSize":15,"fontWeight":"bold","align":"left","baseline":"alphabetic"},"encoding":{"x":{"datum":-0.7462,"type":"quantitative","axis":null},"y":{"datum":-1.4523,"type":"quantitative","axis":null}}},
{"data":{"values":[{}]},"mark":{"type":"text","text":"Site-dependent function of","fontSize":16,"align":"right","baseline":"middle","dx":-4.5},"encoding":{"x":{"datum":6.117,"type":"quantitative","axis":null},"y":{"datum":-1.0598,"type":"quantitative","axis":null}}},
{"data":{"values":[{}]},"mark":{"type":"text","text":"miR-203","fontStyle":"italic","fontSize":16,"align":"left","baseline":"middle"},"encoding":{"x":{"datum":6.117,"type":"quantitative","axis":null},"y":{"datum":-1.0598,"type":"quantitative","axis":null}}},
{"data":{"values":[{}]},"mark":{"type":"rule","color":"#000","strokeWidth":1.3},"encoding":{"x":{"datum":3.692,"type":"quantitative","axis":null},"y":{"datum":-0.7477,"type":"quantitative","axis":null},"x2":{"datum":3.06},"y2":{"datum":-0.3065}}},
{"data":{"values":[{}]},"mark":{"type":"rule","color":"#000","strokeWidth":1.3},"encoding":{"x":{"datum":6.277,"type":"quantitative","axis":null},"y":{"datum":-0.7477,"type":"quantitative","axis":null},"x2":{"datum":6.926},"y2":{"datum":-0.3159}}},
{"data":{"values":[{}]},"mark":{"type":"point","shape":"triangle-up","filled":true,"color":"#000","size":64,"angle":240.2,"opacity":1,"strokeWidth":0},"encoding":{"x":{"datum":3.06,"type":"quantitative","axis":null},"y":{"datum":-0.3065,"type":"quantitative","axis":null}}},
{"data":{"values":[{}]},"mark":{"type":"point","shape":"triangle-up","filled":true,"color":"#000","size":64,"angle":118.7,"opacity":1,"strokeWidth":0},"encoding":{"x":{"datum":6.926,"type":"quantitative","axis":null},"y":{"datum":-0.3159,"type":"quantitative","axis":null}}},
{"data":{"values":[{}]},"mark":{"type":"text","text":"Oncogenic","fontSize":15,"align":"center","baseline":"middle"},"encoding":{"x":{"datum":3.015,"type":"quantitative","axis":null},"y":{"datum":0.1925,"type":"quantitative","axis":null}}},
{"data":{"values":[{}]},"mark":{"type":"text","text":"Tumor suppressive","fontSize":15,"align":"center","baseline":"middle"},"encoding":{"x":{"datum":7.0,"type":"quantitative","axis":null},"y":{"datum":0.1925,"type":"quantitative","axis":null}}},
{"data":{"values":[{}]},"mark":{"type":"rule","color":"#000","strokeWidth":1},"encoding":{"x":{"datum":2.463,"type":"quantitative","axis":null},"x2":{"datum":3.568},"y":{"datum":0.3327,"type":"quantitative","axis":null}}},
{"data":{"values":[{}]},"mark":{"type":"rule","color":"#000","strokeWidth":1},"encoding":{"x":{"datum":6.027,"type":"quantitative","axis":null},"x2":{"datum":7.988},"y":{"datum":0.3327,"type":"quantitative","axis":null}}}
]
}
],
"config": {
"view": {"stroke": null},
"font": "Liberation Sans",
"axis": {"grid": false, "domainColor": "#000000", "domainWidth": 1.5, "tickColor": "#000000", "tickWidth": 1, "labelColor": "#333333", "labelFont": "Liberation Sans", "labelFlush": false, "labelOverlap": false},
"text": {"color": "#000000"},
"tick": {"opacity": 1},
"point": {"opacity": 1}
}
}
